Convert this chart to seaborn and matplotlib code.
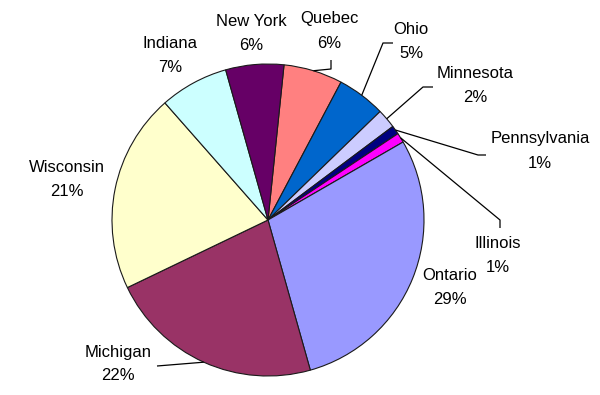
import numpy as np
import matplotlib
matplotlib.use("Agg")
import matplotlib.pyplot as plt
import seaborn as sns

# Data (clockwise from top)
states = ["Quebec", "Ohio", "Minnesota", "Pennsylvania", "Illinois",
          "Ontario", "Michigan", "Wisconsin", "Indiana", "New York"]
shares = [6.1, 5.0, 2.0, 0.9, 1.0, 28.9, 22.2, 20.6, 7.1, 6.0]
colors = ["#FF8080", "#0066CC", "#CCCCFF", "#000080", "#FF00FF",
          "#9999FF", "#993366", "#FFFFCC", "#CCFFFF", "#660066"]

sns.set_theme(style="white")
plt.rcParams['font.family'] = ['Liberation Sans', 'DejaVu Sans']

W, H = 600, 395
fig = plt.figure(figsize=(6.0, 3.95), dpi=100)
ax = fig.add_axes([0, 0, 1, 1])
ax.set_xlim(0, W)
ax.set_ylim(0, H)
ax.set_aspect('equal')
ax.axis('off')

cx, cy, r = 268, H - 220, 156
wedges, _ = ax.pie(shares, colors=colors, startangle=84.1, counterclock=False,
                   center=(cx, cy), radius=r,
                   wedgeprops=dict(edgecolor="#1a1a1a", linewidth=0.8))
ax.set_xlim(0, W)
ax.set_ylim(0, H)

total = sum(shares)
pcts = [f"{round(v / total * 100):.0f}%" for v in shares]

# label positions (pixel coords, top-origin) for name line
label_pos = {
    "Quebec": (329, 19),
    "Ohio": (411, 29),
    "Minnesota": (475, 74),
    "Pennsylvania": (540, 139),
    "Illinois": (498, 243),
    "Ontario": (450, 276),
    "Michigan": (118, 352),
    "Wisconsin": (67, 168),
    "Indiana": (170, 43),
    "New York": (251, 21),
}
leaders = {
    "Quebec": [(331, 69), (331, 60)],
    "Ohio": [(383, 43), (393, 43)],
    "Minnesota": [(423, 87), (433, 87)],
    "Pennsylvania": [(478, 155), (486, 155)],
    "Illinois": [(500, 220), (500, 228)],
    "Michigan": [(157, 366)],
}

for w, name, pct in zip(wedges, states, pcts):
    x, y = label_pos[name]
    ax.text(x, H - y, name, ha='center', va='center', fontsize=12, color='black')
    ax.text(x, H - y - 24, pct, ha='center', va='center', fontsize=12, color='black')
    if name in leaders:
        mid = np.deg2rad((w.theta1 + w.theta2) / 2)
        px = cx + r * np.cos(mid)
        py = cy + r * np.sin(mid)
        pts = [(px, py)] + [(a, H - b) for a, b in leaders[name]]
        xs, ys = zip(*pts)
        ax.plot(xs, ys, color='black', linewidth=0.9, solid_capstyle='butt')

fig.savefig("out.png", dpi=100, facecolor='white')
